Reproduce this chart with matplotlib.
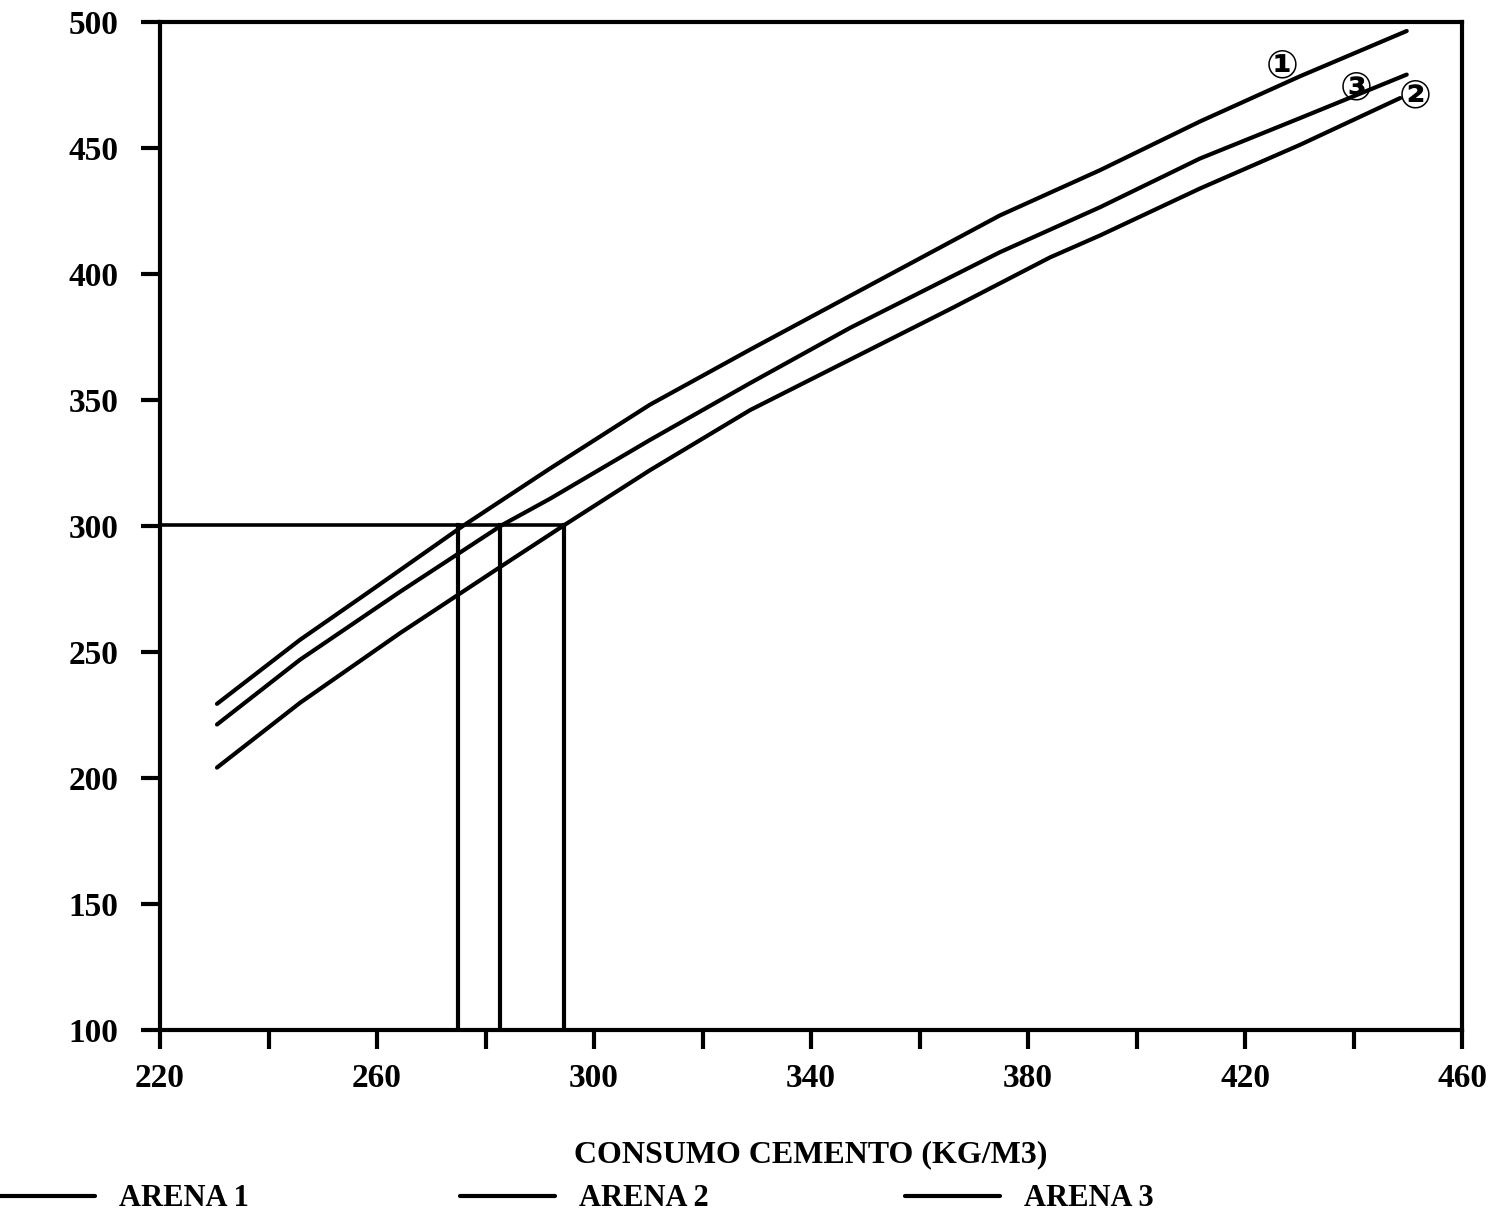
import matplotlib
matplotlib.use("Agg")
import matplotlib.pyplot as plt

# ---- data ----
x_arena1 = [230.5, 245.8, 258.1, 275.9, 291.9, 310.3, 328.8, 347.2, 374.8, 393.3, 411.7, 430.1, 449.8]
y_arena1 = [229.4, 254.8, 273.2, 300.1, 322.8, 348.1, 370.0, 391.3, 423.2, 441.2, 460.5, 478.4, 496.4]

x_arena3 = [230.5, 245.8, 264.2, 283.0, 291.9, 310.3, 328.8, 347.2, 365.6, 374.8, 393.3, 411.7, 430.1, 449.8]
y_arena3 = [221.2, 246.9, 273.8, 300.3, 310.8, 334.1, 356.7, 378.6, 398.6, 408.6, 426.5, 445.8, 461.8, 479.1]

x_arena2 = [230.5, 245.8, 264.2, 282.7, 294.5, 310.3, 328.8, 347.2, 365.6, 384.1, 393.3, 411.7, 430.1, 448.6]
y_arena2 = [204.1, 229.8, 257.4, 283.7, 300.3, 322.1, 346.0, 366.0, 386.0, 406.6, 415.3, 433.9, 451.2, 469.8]

target_y = 300.3
crossing_x = [275.0, 282.7, 294.5]

x_ticks = [220, 240, 260, 280, 300, 320, 340, 360, 380, 400, 420, 440, 460]
x_labels = ["220", "", "260", "", "300", "", "340", "", "380", "", "420", "", "460"]
y_ticks = [100, 150, 200, 250, 300, 350, 400, 450, 500]

x_title = "CONSUMO CEMENTO (KG/M3)"
series_names = ["ARENA 1", "ARENA 2", "ARENA 3"]
marks = [("\u2460", 426.8, 482.5), ("\u2462", 440.4, 473.5), ("\u2461", 451.4, 470.5)]

FONT = "Liberation Serif"

fig = plt.figure(figsize=(15.11, 12.18), dpi=100)
ax = fig.add_axes([0.1059, 0.1544, 0.8617, 0.8276])

lw = 3.0
l1, = ax.plot(x_arena1, y_arena1, color="black", lw=lw, solid_capstyle="round", solid_joinstyle="round")
l3, = ax.plot(x_arena3, y_arena3, color="black", lw=lw, solid_capstyle="round", solid_joinstyle="round")
l2, = ax.plot(x_arena2, y_arena2, color="black", lw=lw, solid_capstyle="round", solid_joinstyle="round")

ax.plot([220, max(crossing_x)], [target_y, target_y], color="black", lw=2.6)
for cx in crossing_x:
    ax.plot([cx, cx], [100, target_y], color="black", lw=3.0)

for s, xx, yy in marks:
    ax.text(xx, yy, s, fontsize=28, ha="center", va="center",
            family=["DejaVu Sans"], style="italic", fontweight="bold")

ax.set_xlim(220, 460)
ax.set_ylim(100, 500)
ax.set_xticks(x_ticks)
ax.set_xticklabels(x_labels)
ax.set_yticks(y_ticks)
for sp in ax.spines.values():
    sp.set_linewidth(3.0)
ax.tick_params(axis="both", direction="out", length=14, width=3.0, labelsize=24)
ax.tick_params(axis="x", pad=10)
ax.tick_params(axis="y", pad=16)
for lab in ax.get_xticklabels() + ax.get_yticklabels():
    lab.set_fontfamily(FONT)
    lab.set_fontweight("bold")

ax.set_xlabel(x_title, fontsize=23, fontweight="bold", family=FONT)
ax.xaxis.set_label_coords(0.5, -0.109)

legend_x = [0.0, 460 / 1511, 905 / 1511]
for h, name, lx in zip([l1, l2, l3], series_names, legend_x):
    fig.legend([h], [name], loc="center left", bbox_to_anchor=(lx, 1 - 1199 / 1218),
               frameon=False, borderpad=0, borderaxespad=0, handlelength=3.1,
               handletextpad=0.8,
               prop={"family": FONT, "weight": "bold", "size": 22})

fig.savefig("out.png", dpi=100, facecolor="white")
